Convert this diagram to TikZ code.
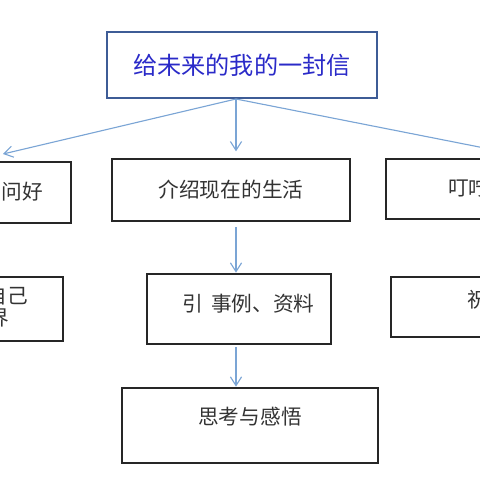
\documentclass[tikz,border=0pt]{standalone}
\usepackage{fontspec}
\setmainfont{Noto Sans CJK SC}
\usepackage{xcolor}
\usetikzlibrary{arrows.meta}

\definecolor{titleblue}{HTML}{2A2AC8}
\definecolor{titleframe}{HTML}{3E5C96}
\definecolor{linkblue}{HTML}{7BA5D5}

\tikzset{
  box/.style={draw=black!85, line width=0.9pt, inner sep=0pt},
  titlebox/.style={draw=titleframe, line width=1.4pt, inner sep=0pt, text=titleblue,
    font=\fontsize{17.2}{21}\selectfont},
  boxtext/.style={inner sep=0pt, text=black!80, font=\fontsize{14.7}{19}\selectfont},
  link/.style={draw=linkblue, line width=0.8pt, -{Straight Barb[length=2.2mm, width=2.8mm]}}
}

\begin{document}
\begin{tikzpicture}[x=0.025cm, y=-0.025cm]
  \useasboundingbox (0,0) rectangle (480,480);
  \clip (0,0) rectangle (480,480);
  % ---------- title ----------
  \node[titlebox, minimum width=6.75cm, minimum height=1.65cm] (letter) at (242,65) {给未来的我的一封信};
  % ---------- left column ----------
  \node[box, minimum width=4.275cm, minimum height=1.525cm] (greet) at (-14.5,192.5) {};
  \node[boxtext, anchor=east] (greettxt) at (43,192) {问好};
  \node[box, minimum width=4.075cm, minimum height=1.6cm] (self) at (-18.5,309) {};
  \node[boxtext, anchor=east] (selftxt) at (28,296) {自己};
  \node[boxtext, anchor=east] (worldtxt) at (9,318) {界};
  % ---------- middle column ----------
  \node[box, boxtext, draw=black!85, minimum width=5.95cm, minimum height=1.55cm] (life) at (231,190) {介绍现在的生活};
  \node[box, minimum width=4.6cm, minimum height=1.75cm] (cases) at (239,309) {};
  \node[boxtext] (casestxt) at (248.5,304) {引\hspace{0.4em}事例、资料};
  \node[box, minimum width=6.4cm, minimum height=1.875cm] (think) at (250,425.5) {};
  \node[boxtext] (thinktxt) at (250,417) {思考与感悟};
  % ---------- right column ----------
  \node[box, minimum width=4.85cm, minimum height=1.5cm] (advice) at (483,189) {};
  \node[boxtext, anchor=west] (advicetxt) at (448,188) {叮咛};
  \node[box, minimum width=4.725cm, minimum height=1.5cm] (wish) at (485.5,307) {};
  \node[boxtext, anchor=west] (wishtxt) at (467,300) {祝福};
  % ---------- arrows ----------
  \coordinate (split) at (236,99);
  \coordinate (greettip) at (3,154);
  \coordinate (advicetip) at (530,157);
  \draw[link] (split) -- (greettip);
  \draw[link] (split) -- (advicetip);
  \draw[link, shorten >=5pt] (split) -- (split |- life.north);
  \draw[link, shorten <=4pt, shorten >=0.5pt] (split |- life.south) -- (split |- cases.north);
  \draw[link, shorten <=2pt, shorten >=0.5pt] (split |- cases.south) -- (split |- think.north);
\end{tikzpicture}
\end{document}
